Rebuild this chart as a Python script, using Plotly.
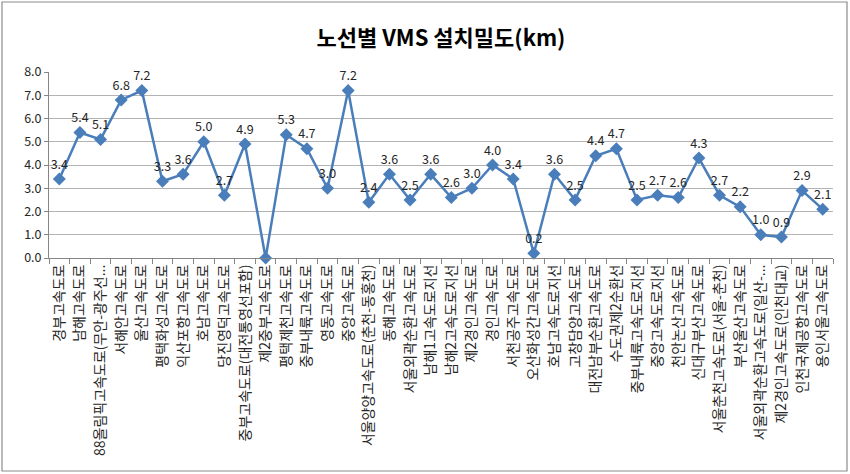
import plotly.graph_objects as go

categories = [
    "경부고속도로", "남해고속도로", "88올림픽고속도로(무안-광주선...", "서해안고속도로", "울산고속도로",
    "평택화성고속도로", "익산포항고속도로", "호남고속도로", "당진영덕고속도로", "중부고속도로(대전통영선포함)",
    "제2중부고속도로", "평택제천고속도로", "중부내륙고속도로", "영동고속도로", "중앙고속도로",
    "서울양양고속도로(춘천-동홍천)", "동해고속도로", "서울외곽순환고속도로", "남해1고속도로지선", "남해2고속도로지선",
    "제2경인고속도로", "경인고속도로", "서천공주고속도로", "오산화성간고속도로", "호남고속도로지선",
    "고창담양고속도로", "대전남부순환고속도로", "수도권제2순환선", "중부내륙고속도로지선", "중앙고속도로지선",
    "천안논산고속도로", "신대구부산고속도로", "서울춘천고속도로(서울-춘천)", "부산울산고속도로", "서울외곽순환고속도로(일산-...",
    "제2경인고속도로(인천대교)", "인천국제공항고속도로", "용인서울고속도로",
]
values = [
    3.4, 5.4, 5.1, 6.8, 7.2,
    3.3, 3.6, 5.0, 2.7, 4.9,
    0.0, 5.3, 4.7, 3.0, 7.2,
    2.4, 3.6, 2.5, 3.6, 2.6,
    3.0, 4.0, 3.4, 0.2, 3.6,
    2.5, 4.4, 4.7, 2.5, 2.7,
    2.6, 4.3, 2.7, 2.2, 1.0,
    0.9, 2.9, 2.1,
]
y_ticks = [0, 1, 2, 3, 4, 5, 6, 7, 8]
title_text = "노선별 VMS 설치밀도(km)"

FONT = "Noto Sans CJK KR"
BLUE = "#4A7EBB"

labels = ["" if v == 0 else f"{v:.1f}" for v in values]

fig = go.Figure()
fig.add_trace(go.Scatter(
    x=categories, y=values,
    mode="lines+markers+text",
    line=dict(color=BLUE, width=2.5),
    marker=dict(symbol="diamond", size=10, color=BLUE),
    text=labels,
    textposition="top center",
    textfont=dict(family=FONT, size=12.5, color="#262626"),
    cliponaxis=False,
    showlegend=False,
))

L, R, T, B = 49, 17, 72, 216
W, H = 850, 474
pw, ph = W - L - R, H - T - B
def px(x):
    return (x - L) / pw
def py(y):
    return (H - B - y) / ph

fig.add_shape(type="rect", xref="paper", yref="paper",
              x0=px(2), x1=px(847), y0=py(471), y1=py(2),
              line=dict(color="#8C8C8C", width=1.2), fillcolor="rgba(0,0,0,0)", layer="below")

fig.update_layout(
    width=W, height=H,
    margin=dict(l=L, r=R, t=T, b=B),
    paper_bgcolor="white", plot_bgcolor="white",
    title=dict(text=f"<b>{title_text}</b>", x=0.5, xanchor="center", xref="paper",
               y=1 - 38 / H, yanchor="middle",
               font=dict(family=FONT, size=22, color="black")),
    font=dict(family=FONT, color="#262626"),
    xaxis=dict(
        type="category", tickangle=-90, tickfont=dict(family=FONT, size=14, color="#262626"),
        showgrid=False, showline=True, linecolor="#868686", linewidth=1,
        ticks="outside", ticklen=5, tickcolor="#868686", tickson="boundaries",
        range=[-0.5, len(categories) - 0.5],
    ),
    yaxis=dict(
        range=[0, 8], tickvals=y_ticks, tickformat=".1f",
        tickfont=dict(family=FONT, size=12.5, color="#262626"),
        showgrid=True, gridcolor="#B3B3B3", gridwidth=1,
        showline=True, linecolor="#868686", linewidth=1,
        ticks="outside", ticklen=4, tickcolor="#868686",
        zeroline=False,
    ),
)

fig.write_html("out.html")
